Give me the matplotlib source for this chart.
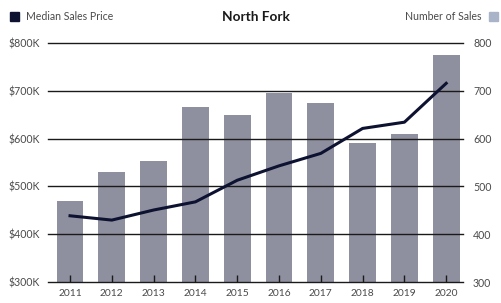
import matplotlib
matplotlib.use("Agg")
import matplotlib.pyplot as plt
import numpy as np

years = ["2011", "2012", "2013", "2014", "2015", "2016", "2017", "2018", "2019", "2020"]
num_sales = [470, 531, 554, 666, 649, 694, 674, 590, 609, 775]
median_price_k = [439, 430, 451, 468, 513, 543, 569, 621, 634, 715]
left_ticks = [300, 400, 500, 600, 700, 800]
left_labels = ["$300K", "$400K", "$500K", "$600K", "$700K", "$800K"]
right_ticks = [300, 400, 500, 600, 700, 800]

plt.rcParams['font.family'] = ['Lato', 'DejaVu Sans']

fig = plt.figure(figsize=(5.02, 3.03), dpi=100)
ax = fig.add_axes([0.0962, 0.0677, 0.923 - 0.0962, 0.8597 - 0.0677])
ax2 = ax.twinx()

x = np.arange(len(years))
bar_color = "#8f909f"
line_color = "#0e1231"
text_color = "#4a4a4a"

# bars: Number of Sales (right-hand scale), drawn on ax
ax.bar(x, num_sales, width=0.64, color=bar_color, zorder=1)
ax.set_ylim(300, 800)
ax.set_yticks(right_ticks)
ax.set_yticklabels([str(t) for t in right_ticks])
ax.yaxis.tick_right()

for t in right_ticks:
    ax.axhline(t, color="#1a1a1a", lw=1.0, zorder=2, clip_on=False)

ax.set_xlim(-0.52, 9.41)
ax.set_xticks(x)
ax.set_xticklabels(years)
ax.tick_params(axis='x', direction='in', length=5, width=1, color="#1a1a1a",
               pad=5, labelsize=7.4, labelcolor=text_color)
ax.tick_params(axis='y', length=0, pad=7, labelsize=7.6, labelcolor=text_color)

# line: Median Sales Price (left-hand scale)
ax2.plot(x, median_price_k, color=line_color, lw=2.2, zorder=3)
ax2.set_ylim(300, 800)
ax2.set_yticks(left_ticks)
ax2.set_yticklabels(left_labels)
ax2.yaxis.tick_left()
ax2.tick_params(axis='y', length=0, pad=6, labelsize=7.6, labelcolor=text_color)
ax2.set_xlim(-0.52, 9.41)

for a in (ax, ax2):
    for s in a.spines.values():
        s.set_visible(False)

# title
fig.text(256 / 502, 1 - 17 / 303, "North Fork", ha='center', va='center',
         fontsize=9.8, fontweight='bold', color="#1a1a1a")

# legends
fig.patches.append(plt.Rectangle((10 / 502, 1 - 21 / 303), 9 / 502, 9 / 303,
                                 transform=fig.transFigure, color=line_color))
fig.text(26 / 502, 1 - 16.5 / 303, "Median Sales Price", ha='left', va='center',
         fontsize=7.6, color=text_color)
fig.patches.append(plt.Rectangle((489 / 502, 1 - 21 / 303), 9 / 502, 9 / 303,
                                 transform=fig.transFigure, color="#a9b4c8"))
fig.text(482 / 502, 1 - 16.5 / 303, "Number of Sales", ha='right', va='center',
         fontsize=7.6, color=text_color)

fig.savefig("out.png", dpi=100)
